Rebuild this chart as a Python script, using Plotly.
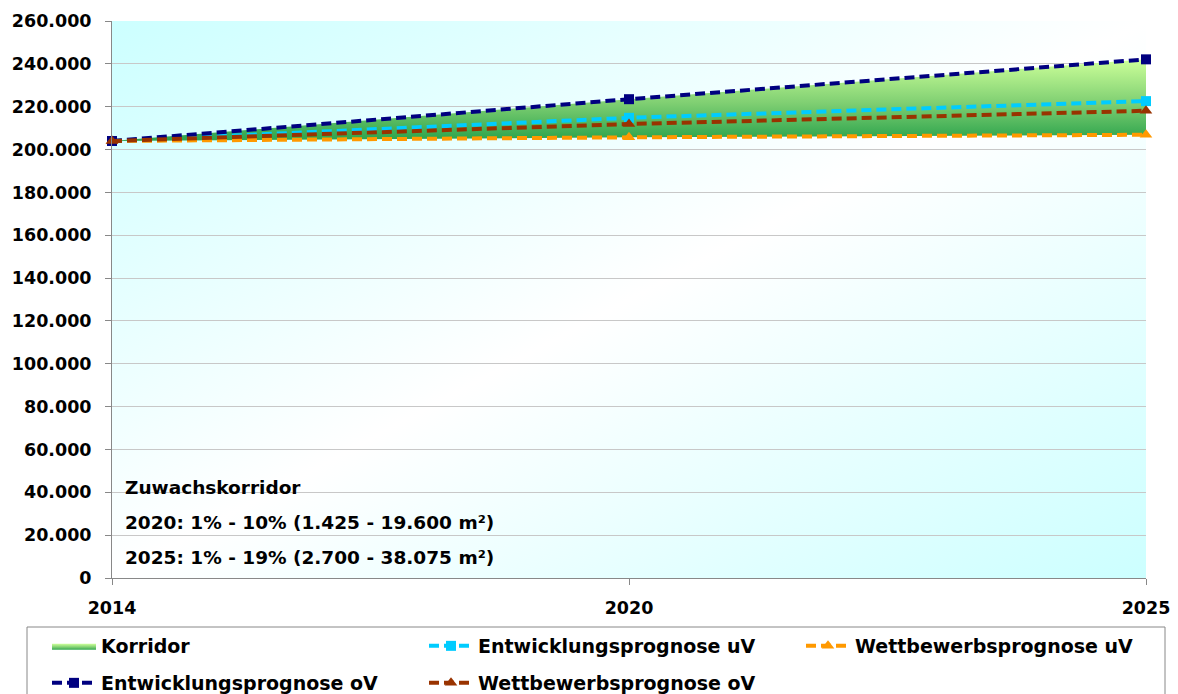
import base64
import plotly.graph_objects as go

# ---- data ----
years = ["2014", "2020", "2025"]
entw_uv = [204000, 214800, 222600]     # Entwicklungsprognose uV
wettb_uv = [204000, 205700, 206900]    # Wettbewerbsprognose uV
entw_ov = [204000, 223500, 242100]     # Entwicklungsprognose oV
wettb_ov = [204000, 211900, 218100]    # Wettbewerbsprognose oV
y_ticks = list(range(0, 260001, 20000))
notes = [
    "Zuwachskorridor",
    "2020: 1% - 10% (1.425 - 19.600 m²)",
    "2025: 1% - 19% (2.700 - 38.075 m²)",
]

FONT = "DejaVu Sans"
OFF = 8  # page body margin
W, H = 1178 - OFF, 694 - OFF
PX0, PX1, PY0, PY1 = 112, 1146, 21, 578  # plot area in page pixels
L, T = PX0 - OFF, PY0 - OFF
R, B = 1178 - PX1, 694 - PY1


def px_x(p):
    return (p - PX0) / (PX1 - PX0)


def px_y(p):
    return (PY1 - p) / (PY1 - PY0)


fig = go.Figure()

# invisible lower bound of corridor
fig.add_trace(go.Scatter(x=years, y=wettb_uv, mode="lines", line=dict(width=0),
                         showlegend=False, hoverinfo="skip"))
fig.add_trace(go.Scatter(
    x=years, y=entw_ov, mode="lines", name="Korridor", line=dict(width=0),
    fill="tonexty",
    fillgradient=dict(type="vertical",
                      colorscale=[[0, "#2fa54e"], [0.45, "#7fcf72"], [1, "#ccff99"]],
                      start=205000, stop=242000),
    fillcolor="#7fcf72", legend="legend"))

dash = "10px,5px"
fig.add_trace(go.Scatter(x=years, y=entw_uv, mode="lines+markers", name="Entwicklungsprognose uV",
                         line=dict(color="#00ccff", width=4, dash=dash),
                         marker=dict(symbol="square", size=10, color="#00ccff"), legend="legend"))
fig.add_trace(go.Scatter(x=years, y=wettb_uv, mode="lines+markers", name="Wettbewerbsprognose uV",
                         line=dict(color="#ff9900", width=4, dash=dash),
                         marker=dict(symbol="triangle-up", size=11, color="#ff9900"), legend="legend"))
fig.add_trace(go.Scatter(x=years, y=entw_ov, mode="lines+markers", name="Entwicklungsprognose oV",
                         line=dict(color="#000080", width=4, dash=dash),
                         marker=dict(symbol="square", size=10, color="#000080"), legend="legend2"))
fig.add_trace(go.Scatter(x=years, y=wettb_ov, mode="lines+markers", name="Wettbewerbsprognose oV",
                         line=dict(color="#993300", width=4, dash=dash),
                         marker=dict(symbol="triangle-up", size=11, color="#993300"), legend="legend2"))

fig.update_traces(cliponaxis=False)

svg = ('<svg xmlns="http://www.w3.org/2000/svg" width="1034" height="557" preserveAspectRatio="none">'
       '<defs><linearGradient id="g" x1="0" y1="0" x2="1" y2="1">'
       '<stop offset="0" stop-color="#ccffff"/><stop offset="0.5" stop-color="#ffffff"/>'
       '<stop offset="1" stop-color="#ccffff"/></linearGradient></defs>'
       '<rect width="1034" height="557" fill="url(#g)"/></svg>')
src = "data:image/svg+xml;base64," + base64.b64encode(svg.encode()).decode()

legend_common = dict(orientation="h", xanchor="left", yanchor="top", traceorder="normal",
                     bgcolor="rgba(0,0,0,0)", borderwidth=0,
                     font=dict(family=FONT, size=19, color="#000000", weight="bold"),
                     entrywidth=318, entrywidthmode="pixels", itemwidth=44)

fig.update_layout(
    width=W, height=H,
    margin=dict(l=L, r=R, t=T, b=B, autoexpand=False),
    paper_bgcolor="#ffffff", plot_bgcolor="rgba(0,0,0,0)",
    separators=",.",
    font=dict(family=FONT, size=17, color="#000000", weight="bold"),
    images=[dict(source=src, xref="paper", yref="paper", x=0, y=1, sizex=1, sizey=1,
                 sizing="stretch", layer="below", xanchor="left", yanchor="top")],
    xaxis=dict(type="category", range=[0, 2], showgrid=False, showline=True,
               linecolor="#888888", linewidth=1, ticks="outside", ticklen=6,
               tickcolor="#888888", ticklabelstandoff=8,
               tickfont=dict(family=FONT, size=17.5, weight="bold")),
    yaxis=dict(range=[0, 260000], tickvals=y_ticks, tickformat=",.0f",
               showgrid=True, gridcolor="#c8c8c8", gridwidth=1, zeroline=False,
               showline=True, linecolor="#888888", linewidth=1, ticks="outside",
               ticklen=6, tickcolor="#888888", ticklabelstandoff=10,
               tickfont=dict(family=FONT, size=17.5, weight="bold")),
    legend=dict(x=px_x(47), y=px_y(627), **legend_common),
    legend2=dict(x=px_x(47), y=px_y(664), **legend_common),
    shapes=[dict(type="rect", xref="paper", yref="paper",
                 x0=px_x(27), x1=px_x(1165), y0=px_y(627), y1=px_y(705),
                 line=dict(color="#888888", width=1), fillcolor="rgba(0,0,0,0)")],
    showlegend=True,
)

for i, (txt, yp) in enumerate(zip(notes, [487, 522, 557])):
    fig.add_annotation(text=txt, xref="paper", yref="paper", x=px_x(123), y=px_y(yp),
                       xanchor="left", yanchor="middle", showarrow=False,
                       font=dict(family=FONT, size=18.5, color="#000000", weight="bold"))

fig.write_html("out.html")
